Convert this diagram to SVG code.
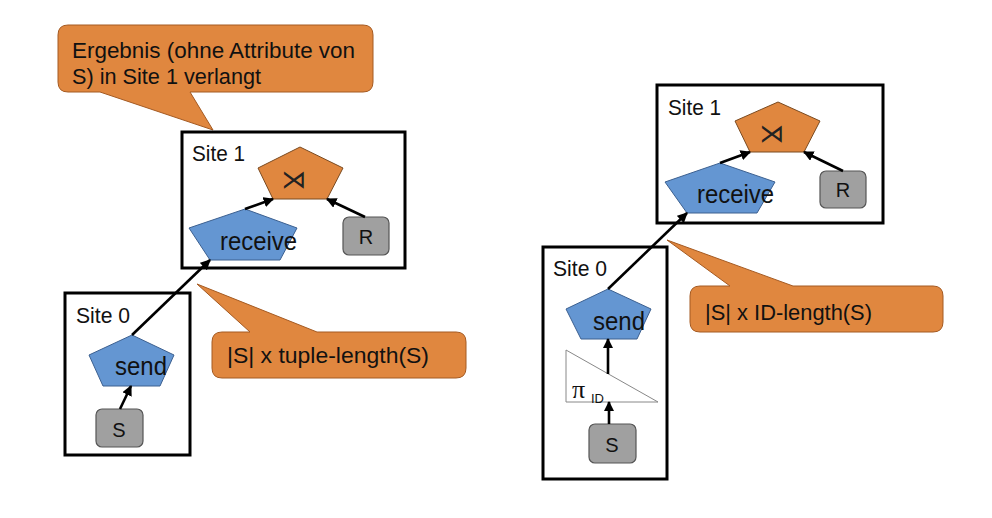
<svg xmlns="http://www.w3.org/2000/svg" width="992" height="518" viewBox="0 0 992 518">
<defs>
<marker id="ah" viewBox="0 0 10 10" refX="9" refY="5" markerWidth="4" markerHeight="4" orient="auto" markerUnits="strokeWidth">
<path d="M0,0 L10,5 L0,10 z" fill="#000"/>
</marker>
<style>
.box{fill:none;stroke:#000;stroke-width:3}
.call{fill:#E0873F;stroke:#A45A22;stroke-width:1}
.join{fill:#E0873F;stroke:#7A4A20;stroke-width:1}
.blue{fill:#6496D2;stroke:#3C6090;stroke-width:1}
.gray{fill:#A0A0A0;stroke:#555;stroke-width:1.2}
.t{font-family:"Liberation Sans",Arial,sans-serif;fill:#111}
.lbl{font-size:22px}
.nm{font-size:20px}
.op{font-size:26px}
.sym{font-family:"DejaVu Sans",sans-serif;font-size:25px;fill:#222}
.edge{stroke:#000;stroke-width:2.6;fill:none;marker-end:url(#ah)}
</style>
</defs>
<rect width="992" height="518" fill="#fff"/>

<!-- Left diagram -->
<g id="callout-top">
<path class="call" d="M68,25 H363 Q373,25 373,35 V82 Q373,92 363,92 H190 L213,130 L100,92 H68 Q58,92 58,82 V35 Q58,25 68,25 Z"/>
<text class="t lbl" x="72" y="58" textLength="283" lengthAdjust="spacingAndGlyphs">Ergebnis (ohne Attribute von</text>
<text class="t lbl" x="72" y="84" textLength="189" lengthAdjust="spacingAndGlyphs">S) in Site 1 verlangt</text>
</g>

<g id="site1-left">
<rect class="box" x="182" y="132" width="223" height="136"/>
<text class="t lbl" x="192" y="161" textLength="53" lengthAdjust="spacingAndGlyphs">Site 1</text>
</g>
<g id="join-left">
<polygon class="join" points="300,147 343,168 327,199 273,199 258,168"/>
<text class="sym" x="294" y="188" text-anchor="middle">⋊</text>
</g>
<g id="receive-left">
<polygon class="blue" points="245,209 297,228 280,260 210,260 189,228"/>
<text class="t op" x="220" y="250" textLength="77" lengthAdjust="spacingAndGlyphs">receive</text>
</g>
<g id="R-left">
<rect class="gray" x="343" y="217" width="46" height="38" rx="6"/>
<text class="t nm" x="366" y="244" text-anchor="middle">R</text>
</g>

<g id="site0-left">
<rect class="box" x="65" y="293" width="125" height="162"/>
<text class="t lbl" x="76" y="323" textLength="54" lengthAdjust="spacingAndGlyphs">Site 0</text>
</g>
<g id="send-left">
<polygon class="blue" points="132,335 174,355 160,386 103,386 89,355"/>
<text class="t op" x="115" y="375" textLength="52" lengthAdjust="spacingAndGlyphs">send</text>
</g>
<g id="S-left">
<rect class="gray" x="96" y="409" width="47" height="38" rx="6"/>
<text class="t nm" x="119" y="437" text-anchor="middle">S</text>
</g>

<g id="callout-left">
<path class="call" d="M222,332 H250 L197,284 L317,332 H456 Q466,332 466,342 V368 Q466,378 456,378 H222 Q212,378 212,368 V342 Q212,332 222,332 Z"/>
<text class="t lbl" x="227" y="363" textLength="202" lengthAdjust="spacingAndGlyphs">|S| x tuple-length(S)</text>
</g>

<!-- Right diagram -->
<g id="site1-right">
<rect class="box" x="657" y="85" width="226" height="138"/>
<text class="t lbl" x="668" y="115" textLength="53" lengthAdjust="spacingAndGlyphs">Site 1</text>
</g>
<g id="join-right">
<polygon class="join" points="778,102 820,121 804,152 750,152 735,121"/>
<text class="sym" x="772" y="142" text-anchor="middle">⋊</text>
</g>
<g id="receive-right">
<polygon class="blue" points="720,163 775,182 757,213 687,213 665,182"/>
<text class="t op" x="697" y="203" textLength="77" lengthAdjust="spacingAndGlyphs">receive</text>
</g>
<g id="R-right">
<rect class="gray" x="820" y="171" width="46" height="37" rx="6"/>
<text class="t nm" x="843" y="197" text-anchor="middle">R</text>
</g>

<g id="site0-right">
<rect class="box" x="543" y="247" width="124" height="232"/>
<text class="t lbl" x="553" y="276" textLength="54" lengthAdjust="spacingAndGlyphs">Site 0</text>
</g>
<g id="send-right">
<polygon class="blue" points="608,289 651,309 637,339 581,339 566,309"/>
<text class="t op" x="593" y="330" textLength="52" lengthAdjust="spacingAndGlyphs">send</text>
</g>
<g id="proj-right">
<polygon points="566,350 566,402 658,402" fill="#fff" stroke="#888" stroke-width="1"/>
<text x="572" y="398" font-family="'Liberation Serif',serif" font-size="26" fill="#111">π</text>
<text class="t" x="591" y="403" font-size="13">ID</text>
</g>
<g id="S-right">
<rect class="gray" x="589" y="424" width="47" height="39" rx="6"/>
<text class="t nm" x="612" y="452" text-anchor="middle">S</text>
</g>

<g id="callout-right">
<path class="call" d="M700,286 H730 L667,240 L793,286 H933 Q943,286 943,296 V322 Q943,332 933,332 H700 Q690,332 690,322 V296 Q690,286 700,286 Z"/>
<text class="t lbl" x="705" y="320" textLength="167" lengthAdjust="spacingAndGlyphs">|S| x ID-length(S)</text>
</g>

<g id="connectors">
<line class="edge" x1="245" y1="209" x2="273" y2="199"/>
<line class="edge" x1="365" y1="217" x2="327" y2="199"/>
<line class="edge" x1="132" y1="335" x2="210" y2="260"/>
<line class="edge" x1="120" y1="409" x2="131" y2="386"/>
<line class="edge" x1="720" y1="163" x2="750" y2="152"/>
<line class="edge" x1="843" y1="171" x2="804" y2="152"/>
<line class="edge" x1="608" y1="289" x2="687" y2="213"/>
<line class="edge" x1="608" y1="374" x2="608" y2="339"/>
<line class="edge" x1="609" y1="424" x2="609" y2="402"/>
</g>
</svg>
